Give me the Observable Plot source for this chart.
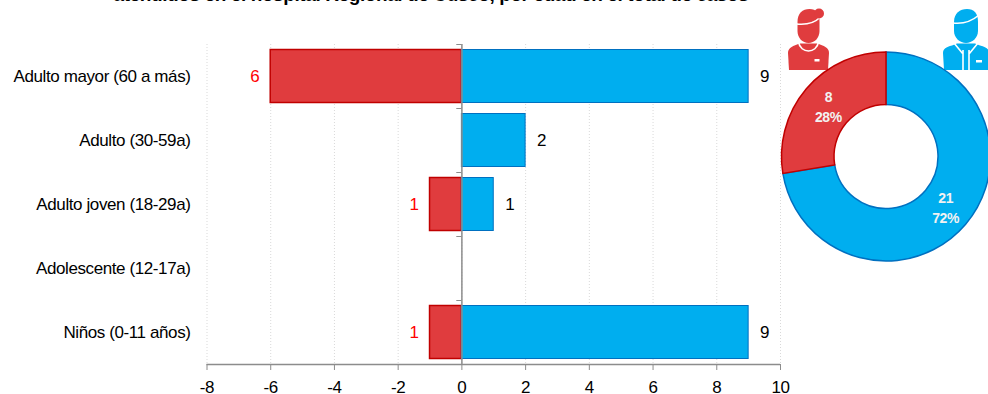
<!DOCTYPE html>
<html><head><meta charset="utf-8">
<script src="https://cdn.jsdelivr.net/npm/d3@7"></script>
<script src="https://cdn.jsdelivr.net/npm/@observablehq/plot@0.6"></script>
<style>
html,body{margin:0;padding:0;background:#fff;overflow:hidden}
svg{display:block}
</style></head><body><div id="chart"></div>
<script>
const categories = ["Adulto mayor (60 a más)","Adulto (30-59a)","Adulto joven (18-29a)","Adolescente (12-17a)","Niños (0-11 años)"];
const mujeres = [6,0,1,0,1];
const hombres = [9,2,1,0,9];
const xTicks = [-8,-6,-4,-2,0,2,4,6,8,10];
const donutLabels = ["Hombres","Mujeres"];
const donutValues = [21,8];
const donutPct = ["72%","28%"];
const titleText = "atendidos en el hospital Regional de Cusco, por edad en el total de casos";

const RED="#E03C3E", REDL="#C00000", BLUE="#00AEEF", BLUEL="#0070C0", AX="#8c8c8c";
const F="Liberation Sans, Arial, sans-serif";
const fem = categories.map((c,i)=>({c,v:mujeres[i]})).filter(d=>d.v>0);
const mal = categories.map((c,i)=>({c,v:hombres[i]})).filter(d=>d.v>0);

function donut(){
  const g=d3.create("svg:g");
  const cx=886, cy=156.5, R=104.5, r=52;
  const order=[{v:donutValues[0],c:BLUE,s:BLUEL,t:donutValues[0],p:donutPct[0],dx:0},{v:donutValues[1],c:RED,s:REDL,t:donutValues[1],p:donutPct[1],dx:2}];
  const arcs=d3.pie().sort(null).value(d=>d.v)(order);
  const arc=d3.arc().innerRadius(r).outerRadius(R);
  const root=g.append("g").attr("transform",`translate(${cx},${cy})`);
  root.selectAll("path").data(arcs).join("path").attr("d",arc).attr("fill",d=>d.data.c).attr("stroke",d=>d.data.s).attr("stroke-width",1.5);
  const lab=root.selectAll("text").data(arcs).join("text").attr("font-family",F).attr("font-weight","bold").attr("font-size",14).attr("letter-spacing","-0.4px").attr("fill","#f2f2f2").attr("text-anchor","middle")
    .attr("transform",d=>{const c=arc.centroid(d);return `translate(${c[0]+d.data.dx},${c[1]})`;});
  lab.append("tspan").attr("x",0).attr("dy","-0.3em").text(d=>d.data.t);
  lab.append("tspan").attr("x",0).attr("dy","1.42em").text(d=>d.data.p);
  return g.node();
}
function person(cx,col,female){
  return function(){
    const g=d3.create("svg:g").attr("transform",`translate(${cx},0)`).attr("fill",col);
    const hw=female?11:12;
    g.append("path").attr("d",`M${-hw} 22 C${-hw} 13,-6 9,1 9 C8 9,${hw} 13,${hw} 22 L${hw} 31 C${hw} 38,6 43,0 43 C-6 43,${-hw} 38,${-hw} 31 Z`);
    g.append("path").attr("d",female?"M-12 24 C-3 25,5 24,12 17":"M-13 23 C-4 24,5 22,13 15").attr("stroke","#fff").attr("stroke-width",1.6).attr("fill","none");
    if(female) g.append("circle").attr("cx",10.5).attr("cy",13.5).attr("r",5);
    const w=female?20.5:23;
    g.append("path").attr("d",`M${-w} 53 C${-w} 49,${-w+3} 47,-14 45.5 L-9 43.5 L9 43.5 L14 45.5 C${w-3} 47,${w} 49,${w} 53 L${w-1} 70 L${-w+1} 70 Z`);
    g.append("path").attr("d",female?"M-10 42 C-8 54,8 54,10 42":"M-12 43 L-3 54 M12 43 L3 54 M-3 50 L-3 72 M3 50 L3 72").attr("stroke","#fff").attr("stroke-width",1.6).attr("fill","none");
    g.append("rect").attr("x",female?6:10).attr("y",female?59:60).attr("width",female?5:6).attr("height",2.5).attr("fill","#fff");
    return g.node();
  };
}

const chart = Plot.plot({
  width:988, height:394,
  marginTop:44, marginBottom:30, marginLeft:206.5, marginRight:208,
  style:{fontFamily:F, fontSize:"17px", letterSpacing:"-0.4px", color:"#000", background:"#fff", overflow:"hidden"},
  x:{domain:[-8,10], label:null},
  y:{domain:categories, padding:0, label:null},
  marks:[
    Plot.gridX(xTicks,{stroke:"#d9d9d9", strokeOpacity:1, strokeDasharray:"1,2"}),
    Plot.barX(fem,{y:"c",x1:d=>-d.v,x2:0,fill:RED,stroke:REDL,strokeWidth:1.5,insetTop:5.5,insetBottom:5.5}),
    Plot.barX(mal,{y:"c",x1:0,x2:"v",fill:BLUE,stroke:BLUEL,strokeWidth:1,insetTop:5.5,insetBottom:5.5}),
    Plot.ruleX([0],{stroke:AX,strokeWidth:1.5}),
    Plot.ruleY(categories,{y:d=>d,x1:0,x2:-0.16,stroke:AX,dy:-32}),
    Plot.ruleY([categories[4]],{y:d=>d,stroke:AX,strokeWidth:1.5,dy:32}),
    Plot.axisX({ticks:xTicks,anchor:"bottom",tickSize:6,tickPadding:10,stroke:AX,fontSize:17,fill:"#000",tickFormat:d=>String(d),label:null}),
    Plot.axisY({anchor:"left",tickSize:0,tickPadding:16.5,fontSize:17,fill:"#000",label:null}),
    Plot.text(fem,{y:"c",x:d=>-d.v,text:"v",dx:-16,fill:"#ff0000",fontSize:17}),
    Plot.text(mal,{y:"c",x:"v",text:"v",dx:16,fill:"#000",fontSize:17}),
    Plot.text([titleText],{frameAnchor:"top-left",textAnchor:"start",lineAnchor:"bottom",text:d=>d,dx:-93.5,dy:-44,fontWeight:"bold",fontSize:19,fill:"#000"}),
    person(808.5,RED,true),
    person(966,BLUE,false),
    donut
  ]
});
document.getElementById("chart").append(chart);
</script></body></html>
